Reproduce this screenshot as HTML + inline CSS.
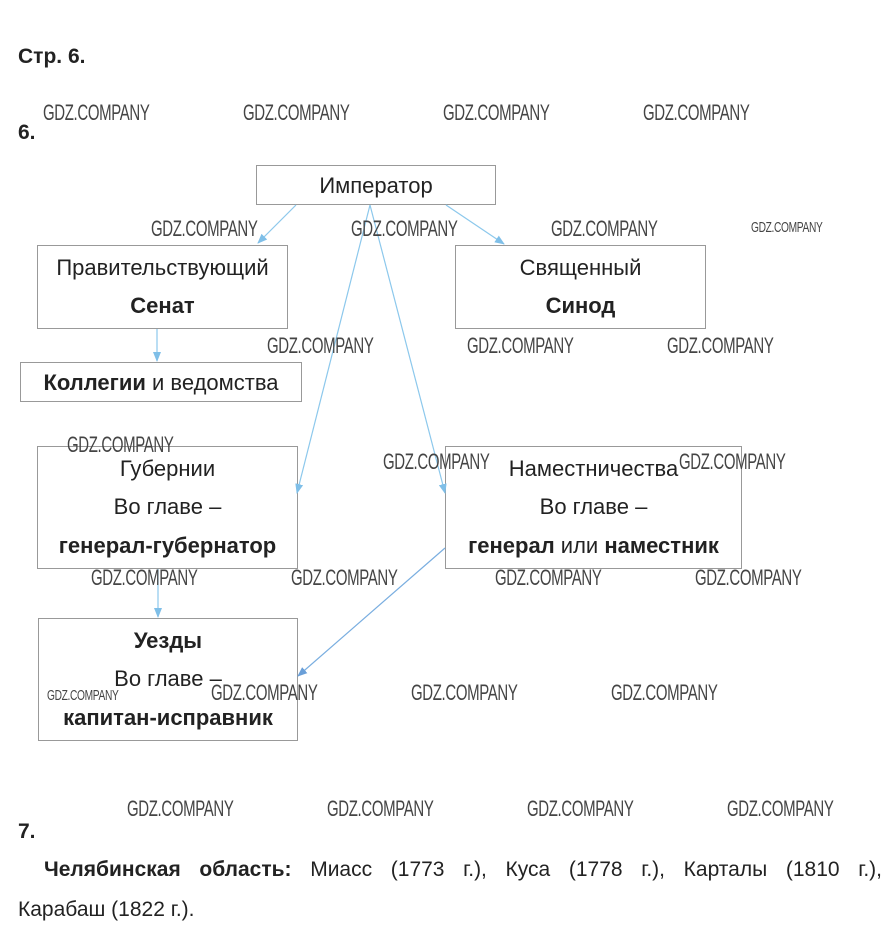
<!DOCTYPE html>
<html><head><meta charset="utf-8"><style>
body{margin:0;width:892px;height:940px;background:#fff;position:relative;overflow:hidden;font-family:"Liberation Sans",Arial,sans-serif;color:#222}
.t{position:absolute;font-size:21px;white-space:nowrap}
.b{font-weight:bold}
.box{position:absolute;border:1px solid #999;box-sizing:border-box;background:#fff}
.l{position:absolute;left:0;right:0;text-align:center;font-size:22px;white-space:nowrap;line-height:24px}
.w{position:absolute;font-size:22px;color:#444;transform:scaleX(0.68);transform-origin:0 0;white-space:nowrap;letter-spacing:-0.5px}
.ws{font-size:15px}
</style></head><body>
<div class="t b" style="left:18px;top:45px">Стр. 6.</div>
<div class="t b" style="left:18px;top:121px">6.</div>

<div class="box" style="left:256px;top:165px;width:240px;height:40px"><div class="l" style="top:8px">Император</div></div>
<div class="box" style="left:37px;top:245px;width:251px;height:84px"><div class="l" style="top:10px">Правительствующий</div><div class="l b" style="top:48px">Сенат</div></div>
<div class="box" style="left:455px;top:245px;width:251px;height:84px"><div class="l" style="top:10px">Священный</div><div class="l b" style="top:48px">Синод</div></div>
<div class="box" style="left:20px;top:362px;width:282px;height:40px"><div class="l" style="top:8px"><b>Коллегии</b> и ведомства</div></div>
<div class="box" style="left:37px;top:446px;width:261px;height:123px"><div class="l" style="top:10px">Губернии</div><div class="l" style="top:48px">Во главе –</div><div class="l b" style="top:87px">генерал-губернатор</div></div>
<div class="box" style="left:445px;top:446px;width:297px;height:123px"><div class="l" style="top:10px">Наместничества</div><div class="l" style="top:48px">Во главе –</div><div class="l" style="top:87px"><b>генерал</b> или <b>наместник</b></div></div>
<div class="box" style="left:38px;top:618px;width:260px;height:123px"><div class="l b" style="top:10px">Уезды</div><div class="l" style="top:48px">Во главе –</div><div class="l b" style="top:87px">капитан-исправник</div></div>

<svg style="position:absolute;left:0;top:0" width="892" height="940">
<defs><marker id="a" markerWidth="10" markerHeight="10" refX="9" refY="5" orient="auto" markerUnits="userSpaceOnUse"><path d="M0,1 L10,5 L0,9 z" fill="#7fbfe8"/></marker>
<marker id="a2" markerWidth="10" markerHeight="10" refX="9" refY="5" orient="auto" markerUnits="userSpaceOnUse"><path d="M0,1 L10,5 L0,9 z" fill="#6a9fd8"/></marker></defs>
<g stroke="#8cc8ec" stroke-width="1.2" fill="none">
<line x1="296" y1="205" x2="258" y2="243" marker-end="url(#a)"/>
<line x1="446" y1="205" x2="504" y2="244" marker-end="url(#a)"/>
<line x1="370" y1="205" x2="297" y2="493" marker-end="url(#a)"/>
<line x1="370" y1="205" x2="445" y2="493" marker-end="url(#a)"/>
<line x1="157" y1="329" x2="157" y2="361" marker-end="url(#a)"/>
<line x1="158" y1="569" x2="158" y2="617" marker-end="url(#a)"/>
<line x1="445" y1="548" x2="298" y2="676" stroke="#7aaee0" marker-end="url(#a2)"/>
</g></svg>

<div class="w" style="left:43px;top:100px">GDZ.COMPANY</div>
<div class="w" style="left:243px;top:100px">GDZ.COMPANY</div>
<div class="w" style="left:443px;top:100px">GDZ.COMPANY</div>
<div class="w" style="left:643px;top:100px">GDZ.COMPANY</div>
<div class="w" style="left:151px;top:216px">GDZ.COMPANY</div>
<div class="w" style="left:351px;top:216px">GDZ.COMPANY</div>
<div class="w" style="left:551px;top:216px">GDZ.COMPANY</div>
<div class="w ws" style="left:751px;top:219px">GDZ.COMPANY</div>
<div class="w" style="left:267px;top:333px">GDZ.COMPANY</div>
<div class="w" style="left:467px;top:333px">GDZ.COMPANY</div>
<div class="w" style="left:667px;top:333px">GDZ.COMPANY</div>
<div class="w" style="left:67px;top:432px">GDZ.COMPANY</div>
<div class="w" style="left:383px;top:449px">GDZ.COMPANY</div>
<div class="w" style="left:679px;top:449px">GDZ.COMPANY</div>
<div class="w" style="left:91px;top:565px">GDZ.COMPANY</div>
<div class="w" style="left:291px;top:565px">GDZ.COMPANY</div>
<div class="w" style="left:495px;top:565px">GDZ.COMPANY</div>
<div class="w" style="left:695px;top:565px">GDZ.COMPANY</div>
<div class="w ws" style="left:47px;top:687px">GDZ.COMPANY</div>
<div class="w" style="left:211px;top:680px">GDZ.COMPANY</div>
<div class="w" style="left:411px;top:680px">GDZ.COMPANY</div>
<div class="w" style="left:611px;top:680px">GDZ.COMPANY</div>
<div class="w" style="left:127px;top:796px">GDZ.COMPANY</div>
<div class="w" style="left:327px;top:796px">GDZ.COMPANY</div>
<div class="w" style="left:527px;top:796px">GDZ.COMPANY</div>
<div class="w" style="left:727px;top:796px">GDZ.COMPANY</div>

<div class="t b" style="left:18px;top:820px">7.</div>
<div style="position:absolute;left:18px;top:850px;width:864px;font-size:21px;line-height:40px;text-align:justify;text-align-last:justify;text-indent:26px"><b>Челябинская область:</b> Миасс (1773 г.), Куса (1778 г.), Карталы (1810 г.),</div>
<div class="t" style="left:18px;top:898px">Карабаш (1822 г.).</div>
</body></html>
